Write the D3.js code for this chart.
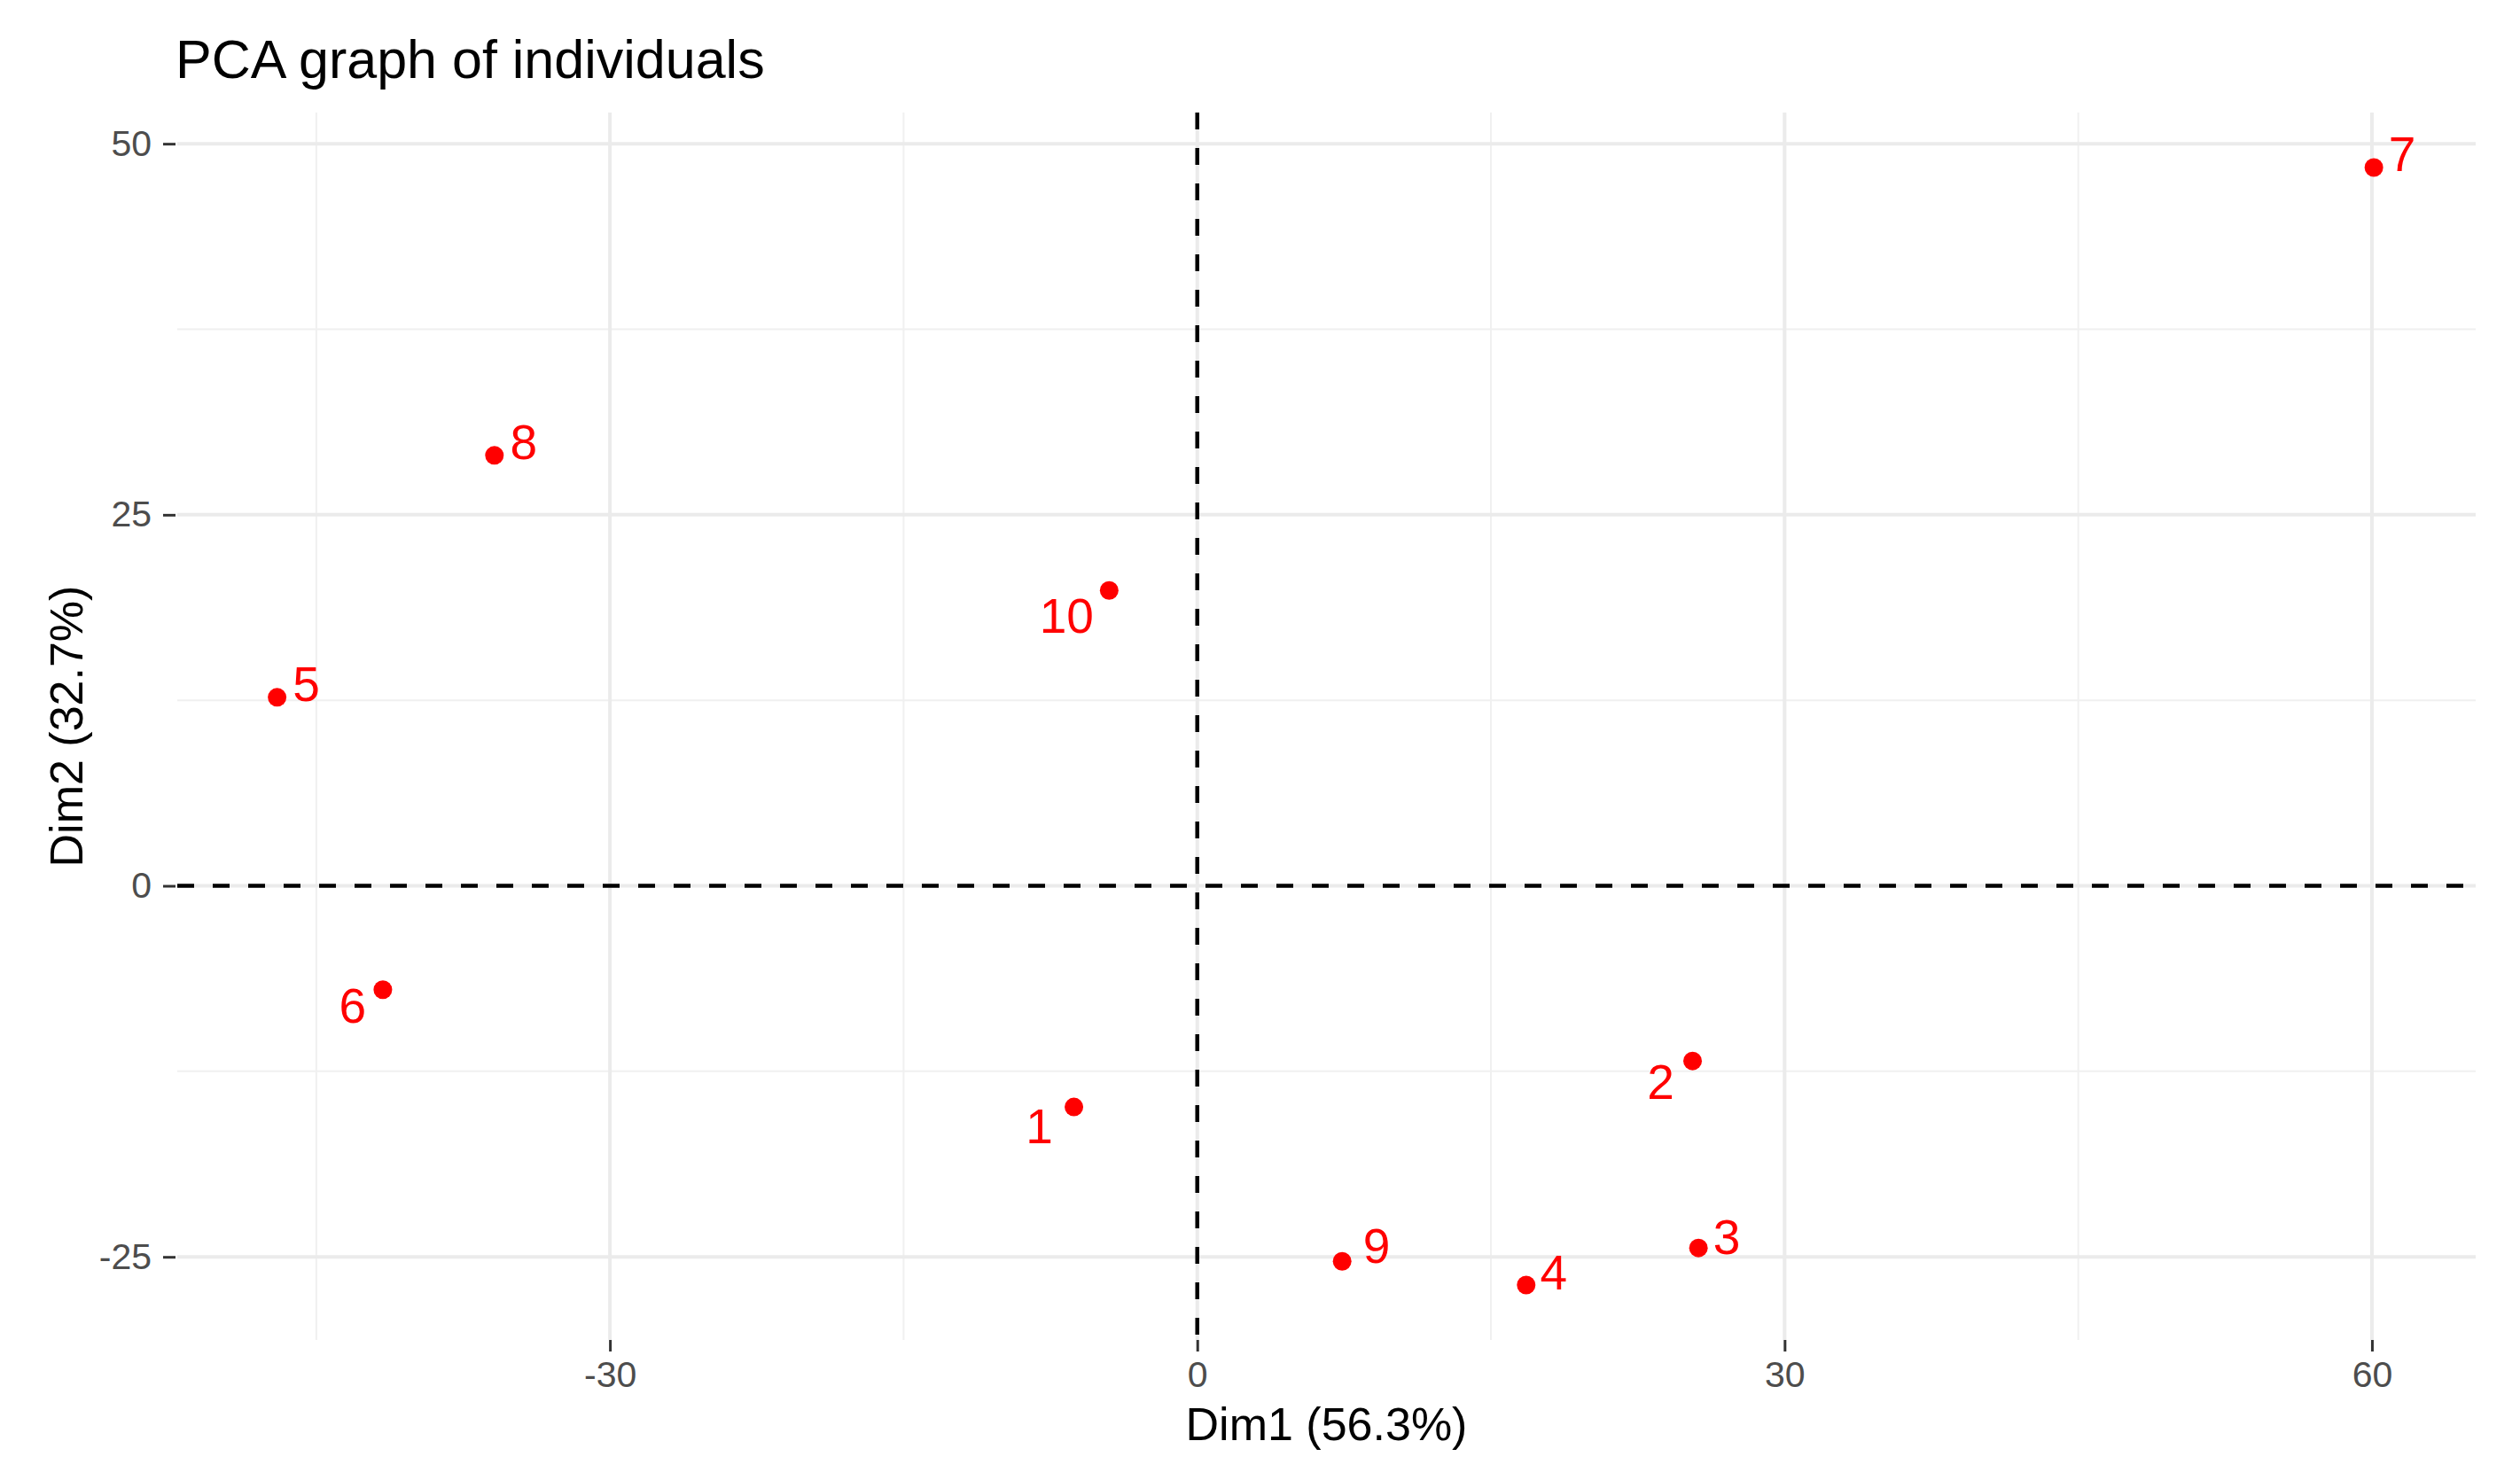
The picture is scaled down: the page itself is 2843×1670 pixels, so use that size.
<!DOCTYPE html>
<html>
<head>
<meta charset="utf-8">
<script src="https://cdn.jsdelivr.net/npm/d3@7"></script>
<style>
  html, body { margin: 0; padding: 0; background: #ffffff; }
  svg { display: block; font-family: "Liberation Sans", Arial, Helvetica, sans-serif; }
</style>
</head>
<body>
<svg id="chart" width="2843" height="1670"></svg>
<script>
// ---- data ----
const individuals = ["1", "2", "3", "4", "5", "6", "7", "8", "9", "10"];
const dim1 = [-6.3, 25.3, 25.6, 16.8, -47.0, -41.6, 60.1, -35.9, 7.4, -4.5];
const dim2 = [-14.9, -11.8, -24.4, -26.9, 12.7, -7.0, 48.4, 29.0, -25.3, 19.9];
const xTicks = [-30, 0, 30, 60];
const yTicks = [-25, 0, 25, 50];
const xMinor = [-45, -15, 15, 45];
const yMinor = [-12.5, 12.5, 37.5];
const titleText = "PCA graph of individuals";
const xTitle = "Dim1 (56.3%)";
const yTitle = "Dim2 (32.7%)";

// ---- layout / style (label nudges in pixels, repel-like placement) ----
const labelNudge = [[-39, 22], [-36, 24], [32, -12], [31, -14], [33, -15],
                    [-34, 18], [32, -15], [33, -15], [39, -17], [-48, 29]];
const panel = { left: 200, right: 2793, top: 127, bottom: 1512 };

const svg = d3.select("#chart");

const x = d3.scaleLinear().domain([-52.1, 65.3]).range([panel.left, panel.right]);
const y = d3.scaleLinear().domain([-30.6, 52.1]).range([panel.bottom, panel.top]);

// grid
const grid = svg.append("g");
grid.selectAll(".vminor").data(xMinor).join("line")
  .attr("x1", d => x(d)).attr("x2", d => x(d))
  .attr("y1", panel.top).attr("y2", panel.bottom)
  .attr("stroke", "#f0f0f0").attr("stroke-width", 2);
grid.selectAll(".hminor").data(yMinor).join("line")
  .attr("y1", d => y(d)).attr("y2", d => y(d))
  .attr("x1", panel.left).attr("x2", panel.right)
  .attr("stroke", "#f0f0f0").attr("stroke-width", 2);
grid.selectAll(".vmajor").data(xTicks).join("line")
  .attr("x1", d => x(d)).attr("x2", d => x(d))
  .attr("y1", panel.top).attr("y2", panel.bottom)
  .attr("stroke", "#ebebeb").attr("stroke-width", 4);
grid.selectAll(".hmajor").data(yTicks).join("line")
  .attr("y1", d => y(d)).attr("y2", d => y(d))
  .attr("x1", panel.left).attr("x2", panel.right)
  .attr("stroke", "#ebebeb").attr("stroke-width", 4);

// dashed reference lines
svg.append("line")
  .attr("x1", panel.left).attr("x2", panel.right)
  .attr("y1", y(0)).attr("y2", y(0))
  .attr("stroke", "#000").attr("stroke-width", 4.5).attr("stroke-dasharray", "19,21");
svg.append("line")
  .attr("x1", x(0)).attr("x2", x(0))
  .attr("y1", panel.top).attr("y2", panel.bottom)
  .attr("stroke", "#000").attr("stroke-width", 4.5).attr("stroke-dasharray", "19,21");

// axes (hyphen-minus as in the reference)
const fmt = d => String(d);
const xAxis = svg.append("g")
  .attr("transform", `translate(0,${panel.bottom})`)
  .call(d3.axisBottom(x).tickValues(xTicks).tickSize(13).tickPadding(11).tickFormat(fmt));
const yAxis = svg.append("g")
  .attr("transform", `translate(${panel.left - 2},0)`)
  .call(d3.axisLeft(y).tickValues(yTicks).tickSize(14).tickPadding(13).tickFormat(fmt));
[xAxis, yAxis].forEach(a => {
  a.select(".domain").remove();
  a.selectAll(".tick line").attr("stroke", "#333333").attr("stroke-width", 3);
  a.selectAll(".tick text").attr("fill", "#4d4d4d").attr("font-size", 41)
    .attr("font-family", "Liberation Sans, Arial, sans-serif");
});

// points
svg.append("g").selectAll("circle").data(individuals).join("circle")
  .attr("cx", (d, i) => x(dim1[i]))
  .attr("cy", (d, i) => y(dim2[i]))
  .attr("r", 10.5)
  .attr("fill", "#ff0000");

// labels
svg.append("g").selectAll("text").data(individuals).join("text")
  .attr("x", (d, i) => x(dim1[i]) + labelNudge[i][0])
  .attr("y", (d, i) => y(dim2[i]) + labelNudge[i][1])
  .attr("text-anchor", "middle")
  .attr("dominant-baseline", "central")
  .attr("font-size", 55)
  .attr("fill", "#ff0000")
  .text(d => d);

// titles
svg.append("text")
  .attr("x", panel.left - 2).attr("y", 88)
  .attr("font-size", 61).attr("fill", "#000")
  .text(titleText);
svg.append("text")
  .attr("x", (panel.left + panel.right) / 2).attr("y", 1625)
  .attr("text-anchor", "middle")
  .attr("font-size", 52).attr("fill", "#000")
  .text(xTitle);
svg.append("text")
  .attr("transform", `translate(93,${(panel.top + panel.bottom) / 2}) rotate(-90)`)
  .attr("text-anchor", "middle")
  .attr("font-size", 52).attr("fill", "#000")
  .text(yTitle);
</script>
</body>
</html>
